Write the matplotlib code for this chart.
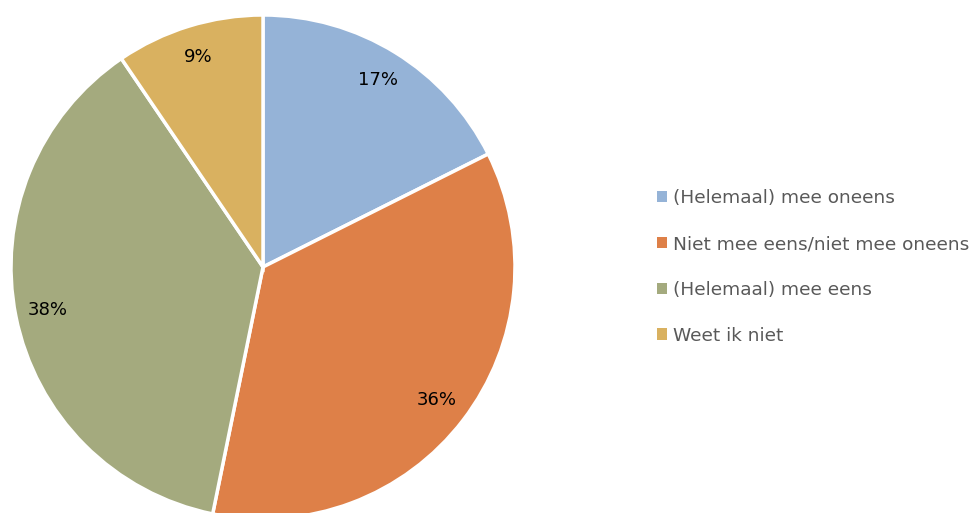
import matplotlib.pyplot as plt
from matplotlib.patches import Patch

categories = ["(Helemaal) mee oneens", "Niet mee eens/niet mee oneens",
              "(Helemaal) mee eens", "Weet ik niet"]
values = [17.6, 35.6, 37.3, 9.5]
pct_labels = ["17%", "36%", "38%", "9%"]
colors = ["#95B3D7", "#DE8048", "#A4AA7E", "#D9B160"]

fig = plt.figure(figsize=(9.78, 5.13), dpi=100)
W, H = 978, 513
cx, cy, r = 263, 513 - 267, 252
ax = fig.add_axes([(cx - r) / W, (cy - r) / H, 2 * r / W, 2 * r / H])

wedges, texts, autotexts = ax.pie(
    values, colors=colors, startangle=90, counterclock=False,
    autopct=lambda p: "", pctdistance=0.87,
    wedgeprops=dict(edgecolor="white", linewidth=2.5))
for t, lab in zip(autotexts, pct_labels):
    t.set_text(lab)
    t.set_fontsize(13)
    t.set_color("black")
ax.set_xlim(-1, 1)
ax.set_ylim(-1, 1)
ax.set_aspect("equal")

handles = [Patch(facecolor=c, edgecolor="none") for c in colors]
fig.legend(handles, categories, loc="center left", bbox_to_anchor=(640 / W, 1 - 267 / H),
           frameon=False, fontsize=13.3, labelcolor="#595959",
           handlelength=0.55, handleheight=0.55, handletextpad=0.35, labelspacing=1.5)

fig.savefig("out.png", dpi=100)
